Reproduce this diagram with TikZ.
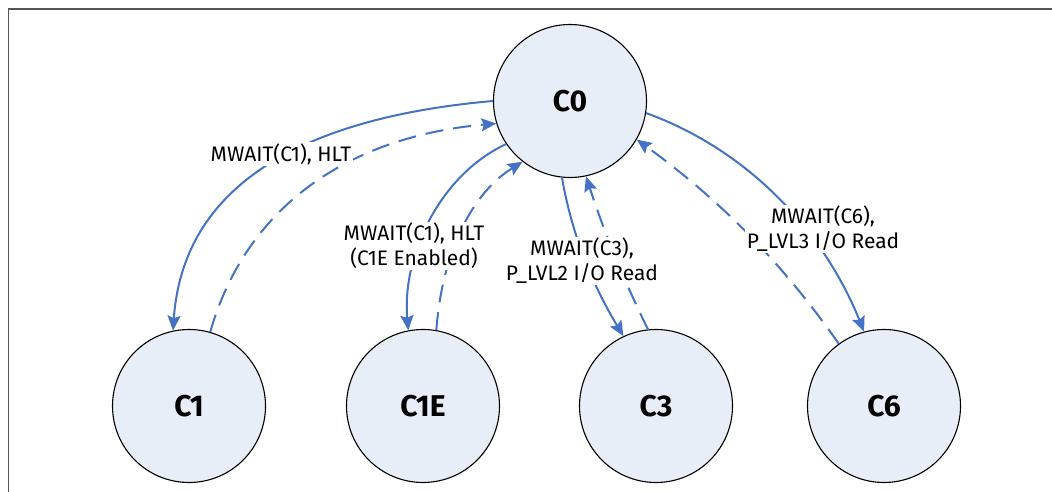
\documentclass[tikz,border=0pt]{standalone}
\usepackage{fontspec}
\setmainfont{Fira Sans}
\usepackage{xcolor}
\usepackage{tikz}
\usetikzlibrary{arrows.meta}

\definecolor{lineblue}{HTML}{4472C4}
\definecolor{statefill}{HTML}{E8EEF7}
\definecolor{framegray}{HTML}{555555}

\tikzset{
	state/.style={circle,draw=black,line width=1.1pt,fill=statefill,minimum size=153pt,inner sep=0pt,font=\fontsize{30}{32}\selectfont\bfseries},
	go/.style={draw=lineblue,line width=2pt,-{Stealth[length=15pt,width=13pt,inset=2.5pt]}},
	back/.style={go,dash pattern=on 18pt off 10pt},
	cond/.style={fill=white,inner sep=1.5pt,align=center,font=\fontsize{21}{25}\selectfont}
}

\begin{document}
\begin{tikzpicture}[x=1pt,y=1pt]
		\useasboundingbox (0,0) rectangle (1052,492);
		%frame
		\draw[framegray,line width=1.6pt] (8.5,-20) -- (8.5,483) -- (1070,483);
		
		%states
		\node[state] (c0) at (570,391) {C0};
		\node[state] (c1) at (189,86) {C1};
		\node[state] (c1e) at (423,86) {C1E};
		\node[state] (c3) at (656,86) {C3};
		\node[state] (c6) at (884,86) {C6};
		
		%entering
		\draw[go] (c0.180) to[out=185,in=86,looseness=1.05] (c1.102);
		\draw[go] (c0.214) to[out=205,in=95,looseness=0.9] (c1e.101);
		\draw[go] (c0.264) to[out=280,in=121,looseness=0.9] (c3.115);
		\draw[go] (c0.351) to[out=340,in=112,looseness=0.9] (c6.105);
		
		%leaving
		\draw[back] (c1.74) to[out=74,in=185,looseness=1.0] (c0.197);
		\draw[back] (c1e.80) to[out=86,in=212,looseness=0.9] (c0.232);
		\draw[back] (c3.96) to[out=116,in=288,looseness=0.9] (c0.282);
		\draw[back] (c6.126) to[out=125,in=324,looseness=0.9] (c0.330);
		
		%conditions
		\node[cond] (t1) at (281,338) {MWAIT(C1), HLT};
		\node[cond] (t1e) at (414,246) {MWAIT(C1), HLT\\(C1E Enabled)};
		\node[cond] (t3) at (582,231) {MWAIT(C3),\\P\_LVL2 I/O Read};
		\node[cond] (t6) at (823,263) {MWAIT(C6),\\P\_LVL3 I/O Read};
\end{tikzpicture}
\end{document}
